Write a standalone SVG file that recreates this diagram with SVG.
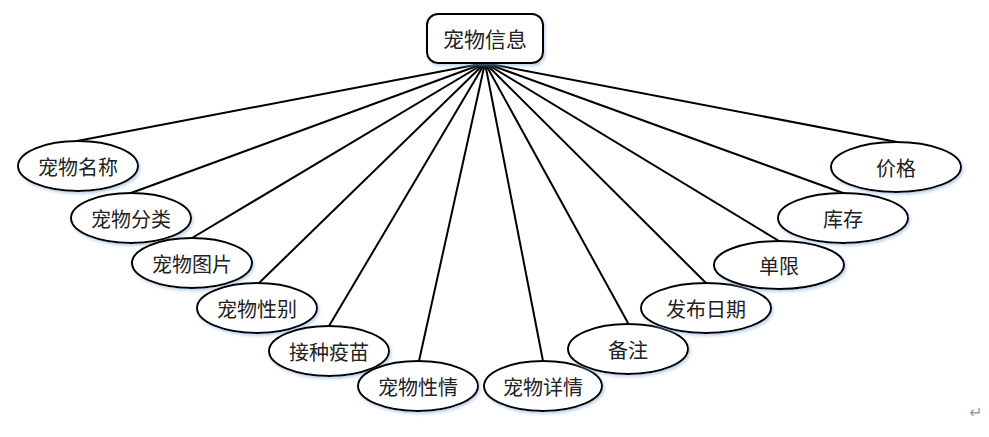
<svg xmlns="http://www.w3.org/2000/svg" width="989" height="437" viewBox="0 0 989 437">
<defs>
<filter id="sh" x="-20%" y="-30%" width="140%" height="160%">
<feDropShadow dx="1.5" dy="2" stdDeviation="1.5" flood-color="#8fb0d8" flood-opacity="0.55"/>
</filter>
<style>
.n{fill:#fff;stroke:#000;stroke-width:2;filter:url(#sh)}
.t{font-family:"Noto Sans CJK SC","Noto Sans CJK TC",sans-serif;font-size:20px;fill:#222;text-anchor:middle;dominant-baseline:central}
.c line{stroke:#000;stroke-width:2}
</style>
</defs>
<rect width="989" height="437" fill="#fff"/>
<g class="c" id="connectors">
<line x1="485" y1="63" x2="77" y2="141"/>
<line x1="485" y1="63" x2="131" y2="193"/>
<line x1="485" y1="63" x2="192" y2="238"/>
<line x1="485" y1="63" x2="258" y2="284"/>
<line x1="485" y1="63" x2="329" y2="326"/>
<line x1="485" y1="63" x2="419" y2="361"/>
<line x1="485" y1="63" x2="543" y2="361"/>
<line x1="485" y1="63" x2="628" y2="323"/>
<line x1="485" y1="63" x2="706" y2="283"/>
<line x1="485" y1="63" x2="779" y2="241"/>
<line x1="485" y1="63" x2="843" y2="193"/>
<line x1="485" y1="63" x2="897" y2="142"/>
</g>
<g id="root"><rect class="n" x="427" y="14" width="116" height="49" rx="11"/><text class="t" x="485" y="38" style="font-size:21px">宠物信息</text></g>
<g id="n1"><ellipse class="n" cx="78" cy="166" rx="60" ry="25"/><text class="t" x="78" y="166">宠物名称</text></g>
<g id="n2"><ellipse class="n" cx="131" cy="218" rx="60" ry="25"/><text class="t" x="131" y="218">宠物分类</text></g>
<g id="n3"><ellipse class="n" cx="192" cy="263" rx="60" ry="25"/><text class="t" x="192" y="263">宠物图片</text></g>
<g id="n4"><ellipse class="n" cx="257" cy="308" rx="60" ry="25"/><text class="t" x="257" y="308">宠物性别</text></g>
<g id="n5"><ellipse class="n" cx="329" cy="351" rx="60" ry="25"/><text class="t" x="329" y="351">接种疫苗</text></g>
<g id="n6"><ellipse class="n" cx="418" cy="386" rx="60" ry="25"/><text class="t" x="418" y="386">宠物性情</text></g>
<g id="n7"><ellipse class="n" cx="543" cy="386" rx="59" ry="25"/><text class="t" x="543" y="386">宠物详情</text></g>
<g id="n8"><ellipse class="n" cx="628" cy="349" rx="60" ry="25"/><text class="t" x="628" y="349">备注</text></g>
<g id="n9"><ellipse class="n" cx="706" cy="308" rx="65" ry="25"/><text class="t" x="706" y="308">发布日期</text></g>
<g id="n10"><ellipse class="n" cx="779" cy="265" rx="65" ry="24"/><text class="t" x="779" y="265">单限</text></g>
<g id="n11"><ellipse class="n" cx="843" cy="218" rx="65" ry="25"/><text class="t" x="843" y="218">库存</text></g>
<g id="n12"><ellipse class="n" cx="896" cy="167" rx="65" ry="25"/><text class="t" x="896" y="167">价格</text></g>
<text x="976" y="418" style="font-family:'DejaVu Sans',sans-serif;font-size:16px;fill:#999;text-anchor:middle">↵</text>
</svg>
